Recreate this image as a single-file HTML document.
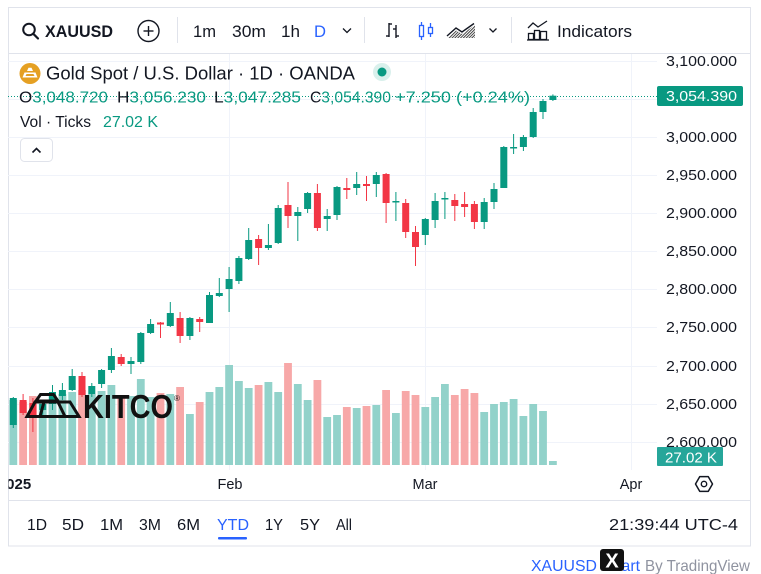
<!DOCTYPE html>
<html><head><meta charset="utf-8"><style>
html,body{margin:0;padding:0;background:#fff;}
svg{display:block;}
</style></head><body>
<svg width="761" height="574" viewBox="0 0 761 574" xmlns="http://www.w3.org/2000/svg" font-family="'Liberation Sans', Arial, sans-serif">
<defs>
<clipPath id="fr"><rect x="8.5" y="8" width="742" height="538"/></clipPath>
<pattern id="hatch" width="2" height="2" patternUnits="userSpaceOnUse" patternTransform="rotate(45)"><rect width="1" height="2" fill="#444"/></pattern>
</defs>
<rect width="761" height="574" fill="#fff"/>
<rect x="8.5" y="7.5" width="742" height="538.5" fill="#fff" stroke="#e0e3eb"/>

<!-- toolbar -->
<line x1="8" y1="53.5" x2="751" y2="53.5" stroke="#e0e3eb"/>
<line x1="177.5" y1="17" x2="177.5" y2="43" stroke="#e0e3eb"/>
<line x1="364.5" y1="17" x2="364.5" y2="43" stroke="#e0e3eb"/>
<line x1="511.5" y1="17" x2="511.5" y2="43" stroke="#e0e3eb"/>
<circle cx="29" cy="29.5" r="5.8" fill="none" stroke="#131722" stroke-width="2"/>
<line x1="33.3" y1="33.8" x2="38" y2="38.5" stroke="#131722" stroke-width="2.2" stroke-linecap="round"/>
<text x="45" y="37" font-size="16.5" font-weight="bold" fill="#131722" textLength="68" lengthAdjust="spacingAndGlyphs">XAUUSD</text>
<circle cx="148.5" cy="31" r="10.5" fill="none" stroke="#131722" stroke-width="1.4"/>
<line x1="143.5" y1="31" x2="153.5" y2="31" stroke="#131722" stroke-width="1.4"/>
<line x1="148.5" y1="26" x2="148.5" y2="36" stroke="#131722" stroke-width="1.4"/>
<text x="193" y="37" font-size="17" fill="#131722" textLength="23" lengthAdjust="spacingAndGlyphs">1m</text>
<text x="232" y="37" font-size="17" fill="#131722" textLength="34" lengthAdjust="spacingAndGlyphs">30m</text>
<text x="281" y="37" font-size="17" fill="#131722" textLength="19" lengthAdjust="spacingAndGlyphs">1h</text>
<text x="314" y="37" font-size="17" fill="#2962ff" textLength="12" lengthAdjust="spacingAndGlyphs">D</text>
<polyline points="343,28.5 347,32.5 351,28.5" fill="none" stroke="#131722" stroke-width="1.3"/>
<!-- bar icon -->
<g stroke="#131722" stroke-width="1.4" fill="none">
<line x1="389" y1="23" x2="389" y2="37"/><line x1="389" y1="24" x2="392" y2="24"/><line x1="386" y1="36" x2="389" y2="36"/>
<line x1="396" y1="25" x2="396" y2="38"/><line x1="393" y1="29" x2="396" y2="29"/><line x1="396" y1="36" x2="399" y2="36"/>
</g>
<!-- candle icon -->
<g stroke="#2962ff" stroke-width="1.3" fill="none">
<line x1="421.5" y1="22" x2="421.5" y2="40"/><rect x="419.5" y="25.5" width="4" height="11" fill="#fff"/>
<line x1="430.5" y1="23" x2="430.5" y2="37"/><rect x="428.5" y="27.5" width="4" height="6" fill="#fff"/>
</g>
<!-- area icon -->
<polygon points="448,38 456,30.5 462,34 475,25 475,38" fill="url(#hatch)"/>
<polyline points="447,36 456,28 462,32 474,23.5" fill="none" stroke="#131722" stroke-width="1.4"/>
<polyline points="489.5,28.5 493,32 496.5,28.5" fill="none" stroke="#131722" stroke-width="1.3"/>
<!-- indicators icon -->
<g stroke="#131722" stroke-width="1.3" fill="none">
<polyline points="528,28 533,23 538,27 547,21"/>
<rect x="528.5" y="33.5" width="5" height="6"/><rect x="534.5" y="30.5" width="5" height="9"/><rect x="540.5" y="31.5" width="6" height="8"/>
<line x1="527" y1="40" x2="549" y2="40"/>
</g>
<text x="557" y="37" font-size="17" fill="#131722" textLength="75" lengthAdjust="spacingAndGlyphs">Indicators</text>

<!-- grid -->
<g stroke="#f0f3fa" stroke-width="1">
<line x1="8" y1="61.5" x2="657" y2="61.5"/><line x1="8" y1="99.5" x2="657" y2="99.5"/><line x1="8" y1="137.5" x2="657" y2="137.5"/>
<line x1="8" y1="175.5" x2="657" y2="175.5"/><line x1="8" y1="213.5" x2="657" y2="213.5"/><line x1="8" y1="251.5" x2="657" y2="251.5"/>
<line x1="8" y1="289.5" x2="657" y2="289.5"/><line x1="8" y1="327.5" x2="657" y2="327.5"/><line x1="8" y1="366.5" x2="657" y2="366.5"/>
<line x1="8" y1="404.5" x2="657" y2="404.5"/><line x1="8" y1="442.5" x2="657" y2="442.5"/>
<line x1="229.5" y1="54" x2="229.5" y2="470"/><line x1="425.5" y1="54" x2="425.5" y2="470"/><line x1="631.5" y1="54" x2="631.5" y2="470"/>
</g>

<!-- volume -->
<g>
<rect x="9.4" y="400" width="7.8" height="65" fill="#92d2ca"/>
<rect x="19.2" y="402" width="7.8" height="63" fill="#f7a8a8"/>
<rect x="29.0" y="396" width="7.8" height="69" fill="#f7a8a8"/>
<rect x="38.8" y="400" width="7.8" height="65" fill="#92d2ca"/>
<rect x="48.6" y="395" width="7.8" height="70" fill="#92d2ca"/>
<rect x="58.5" y="394" width="7.8" height="71" fill="#92d2ca"/>
<rect x="68.3" y="392" width="7.8" height="73" fill="#92d2ca"/>
<rect x="78.1" y="390" width="7.8" height="75" fill="#f7a8a8"/>
<rect x="87.9" y="394" width="7.8" height="71" fill="#92d2ca"/>
<rect x="97.7" y="391" width="7.8" height="74" fill="#92d2ca"/>
<rect x="107.5" y="385" width="7.8" height="80" fill="#92d2ca"/>
<rect x="117.3" y="397" width="7.8" height="68" fill="#f7a8a8"/>
<rect x="127.1" y="396" width="7.8" height="69" fill="#92d2ca"/>
<rect x="136.9" y="379" width="7.8" height="86" fill="#92d2ca"/>
<rect x="146.7" y="397" width="7.8" height="68" fill="#92d2ca"/>
<rect x="156.6" y="393" width="7.8" height="72" fill="#f7a8a8"/>
<rect x="166.4" y="394" width="7.8" height="71" fill="#92d2ca"/>
<rect x="176.2" y="387" width="7.8" height="78" fill="#f7a8a8"/>
<rect x="186.0" y="414" width="7.8" height="51" fill="#92d2ca"/>
<rect x="195.8" y="402" width="7.8" height="63" fill="#f7a8a8"/>
<rect x="205.6" y="392" width="7.8" height="73" fill="#92d2ca"/>
<rect x="215.4" y="387" width="7.8" height="78" fill="#92d2ca"/>
<rect x="225.2" y="365" width="7.8" height="100" fill="#92d2ca"/>
<rect x="235.0" y="381" width="7.8" height="84" fill="#92d2ca"/>
<rect x="244.8" y="388" width="7.8" height="77" fill="#92d2ca"/>
<rect x="254.7" y="385" width="7.8" height="80" fill="#f7a8a8"/>
<rect x="264.5" y="382" width="7.8" height="83" fill="#92d2ca"/>
<rect x="274.3" y="392" width="7.8" height="73" fill="#92d2ca"/>
<rect x="284.1" y="363" width="7.8" height="102" fill="#f7a8a8"/>
<rect x="293.9" y="384" width="7.8" height="81" fill="#92d2ca"/>
<rect x="303.7" y="400" width="7.8" height="65" fill="#92d2ca"/>
<rect x="313.5" y="380" width="7.8" height="85" fill="#f7a8a8"/>
<rect x="323.3" y="417" width="7.8" height="48" fill="#92d2ca"/>
<rect x="333.1" y="415" width="7.8" height="50" fill="#92d2ca"/>
<rect x="342.9" y="407" width="7.8" height="58" fill="#f7a8a8"/>
<rect x="352.8" y="408" width="7.8" height="57" fill="#92d2ca"/>
<rect x="362.6" y="406" width="7.8" height="59" fill="#f7a8a8"/>
<rect x="372.4" y="405" width="7.8" height="60" fill="#92d2ca"/>
<rect x="382.2" y="390" width="7.8" height="75" fill="#f7a8a8"/>
<rect x="392.0" y="413" width="7.8" height="52" fill="#92d2ca"/>
<rect x="401.8" y="391" width="7.8" height="74" fill="#f7a8a8"/>
<rect x="411.6" y="395" width="7.8" height="70" fill="#f7a8a8"/>
<rect x="421.4" y="407" width="7.8" height="58" fill="#92d2ca"/>
<rect x="431.2" y="397" width="7.8" height="68" fill="#92d2ca"/>
<rect x="441.0" y="384" width="7.8" height="81" fill="#92d2ca"/>
<rect x="450.9" y="395" width="7.8" height="70" fill="#f7a8a8"/>
<rect x="460.7" y="389" width="7.8" height="76" fill="#f7a8a8"/>
<rect x="470.5" y="393" width="7.8" height="72" fill="#f7a8a8"/>
<rect x="480.3" y="412" width="7.8" height="53" fill="#92d2ca"/>
<rect x="490.1" y="404" width="7.8" height="61" fill="#92d2ca"/>
<rect x="499.9" y="402" width="7.8" height="63" fill="#92d2ca"/>
<rect x="509.7" y="399" width="7.8" height="66" fill="#92d2ca"/>
<rect x="519.5" y="416" width="7.8" height="49" fill="#92d2ca"/>
<rect x="529.3" y="404" width="7.8" height="61" fill="#92d2ca"/>
<rect x="539.1" y="411" width="7.8" height="54" fill="#92d2ca"/>
<rect x="549.0" y="461" width="7.8" height="4" fill="#92d2ca"/>
</g>

<!-- candles -->
<g fill="#089981">
<rect x="12.8" y="397" width="1" height="31"/><rect x="9.8" y="398" width="7" height="27"/>
<rect x="42.2" y="400" width="1" height="15"/><rect x="39.2" y="404" width="7" height="6"/>
<rect x="52.0" y="385" width="1" height="25"/><rect x="49.0" y="392" width="7" height="12"/>
<rect x="61.9" y="383" width="1" height="17"/><rect x="58.9" y="390" width="7" height="6"/>
<rect x="71.7" y="369" width="1" height="22"/><rect x="68.7" y="376" width="7" height="14"/>
<rect x="91.3" y="383" width="1" height="14"/><rect x="88.3" y="386" width="7" height="8"/>
<rect x="101.1" y="369" width="1" height="19"/><rect x="98.1" y="370" width="7" height="14"/>
<rect x="110.9" y="348" width="1" height="25"/><rect x="107.9" y="356" width="7" height="14"/>
<rect x="130.5" y="357" width="1" height="17"/><rect x="127.5" y="361" width="7" height="3"/>
<rect x="140.3" y="332" width="1" height="32"/><rect x="137.3" y="333" width="7" height="29"/>
<rect x="150.1" y="319" width="1" height="15"/><rect x="147.1" y="324" width="7" height="9"/>
<rect x="169.8" y="302" width="1" height="25"/><rect x="166.8" y="313" width="7" height="13"/>
<rect x="189.4" y="317" width="1" height="23"/><rect x="186.4" y="318" width="7" height="18"/>
<rect x="209.0" y="292" width="1" height="31"/><rect x="206.0" y="295" width="7" height="28"/>
<rect x="218.8" y="278" width="1" height="19"/><rect x="215.8" y="293" width="7" height="3"/>
<rect x="228.6" y="267" width="1" height="45"/><rect x="225.6" y="279" width="7" height="10"/>
<rect x="238.4" y="256" width="1" height="28"/><rect x="235.4" y="258" width="7" height="23"/>
<rect x="248.2" y="228" width="1" height="32"/><rect x="245.2" y="240" width="7" height="19"/>
<rect x="267.9" y="224" width="1" height="26"/><rect x="264.9" y="245" width="7" height="3"/>
<rect x="277.7" y="205" width="1" height="39"/><rect x="274.7" y="208" width="7" height="35"/>
<rect x="297.3" y="207" width="1" height="34"/><rect x="294.3" y="212" width="7" height="4"/>
<rect x="307.1" y="192" width="1" height="21"/><rect x="304.1" y="193" width="7" height="16"/>
<rect x="326.7" y="209" width="1" height="22"/><rect x="323.7" y="216" width="7" height="3"/>
<rect x="336.5" y="186" width="1" height="34"/><rect x="333.5" y="187" width="7" height="28"/>
<rect x="356.2" y="172" width="1" height="23"/><rect x="353.2" y="184" width="7" height="4"/>
<rect x="375.8" y="172" width="1" height="25"/><rect x="372.8" y="175" width="7" height="9"/>
<rect x="395.4" y="192" width="1" height="29"/><rect x="392.4" y="201" width="7" height="1.5"/>
<rect x="424.8" y="218" width="1" height="27"/><rect x="421.8" y="219" width="7" height="16"/>
<rect x="434.6" y="193" width="1" height="35"/><rect x="431.6" y="201" width="7" height="19"/>
<rect x="444.4" y="192" width="1" height="27"/><rect x="441.4" y="198" width="7" height="1.5"/>
<rect x="483.7" y="198" width="1" height="31"/><rect x="480.7" y="202" width="7" height="20"/>
<rect x="493.5" y="183" width="1" height="26"/><rect x="490.5" y="189" width="7" height="13"/>
<rect x="503.3" y="146" width="1" height="42"/><rect x="500.3" y="147" width="7" height="41"/>
<rect x="513.1" y="134" width="1" height="20"/><rect x="510.1" y="147" width="7" height="1.5"/>
<rect x="522.9" y="135" width="1" height="16"/><rect x="519.9" y="137" width="7" height="10"/>
<rect x="532.7" y="108" width="1" height="30"/><rect x="529.7" y="112" width="7" height="25"/>
<rect x="542.5" y="99" width="1" height="20"/><rect x="539.5" y="101" width="7" height="11"/>
<rect x="552.4" y="94.4" width="1" height="6.6"/><rect x="549.4" y="95.7" width="7" height="4.3"/>
</g>
<g fill="#f23645">
<rect x="22.6" y="394" width="1" height="21"/><rect x="19.6" y="400" width="7" height="13"/>
<rect x="32.4" y="398" width="1" height="34"/><rect x="29.4" y="403" width="7" height="13"/>
<rect x="81.5" y="372" width="1" height="25"/><rect x="78.5" y="376" width="7" height="19"/>
<rect x="120.7" y="354" width="1" height="12"/><rect x="117.7" y="357" width="7" height="7"/>
<rect x="160.0" y="322" width="1" height="16"/><rect x="157.0" y="322.5" width="7" height="2"/>
<rect x="179.6" y="312" width="1" height="31"/><rect x="176.6" y="318" width="7" height="18"/>
<rect x="199.2" y="317" width="1" height="15"/><rect x="196.2" y="319" width="7" height="3"/>
<rect x="258.1" y="235" width="1" height="30"/><rect x="255.1" y="239" width="7" height="9"/>
<rect x="287.5" y="182" width="1" height="46"/><rect x="284.5" y="205" width="7" height="11"/>
<rect x="316.9" y="184" width="1" height="47"/><rect x="313.9" y="193" width="7" height="35"/>
<rect x="346.3" y="178" width="1" height="21"/><rect x="343.3" y="188" width="7" height="2"/>
<rect x="366.0" y="176" width="1" height="25"/><rect x="363.0" y="184" width="7" height="2"/>
<rect x="385.6" y="173" width="1" height="50"/><rect x="382.6" y="174" width="7" height="29"/>
<rect x="405.2" y="199" width="1" height="39"/><rect x="402.2" y="203" width="7" height="29"/>
<rect x="415.0" y="226" width="1" height="40"/><rect x="412.0" y="232" width="7" height="15"/>
<rect x="454.3" y="194" width="1" height="27"/><rect x="451.3" y="200" width="7" height="6"/>
<rect x="464.1" y="192" width="1" height="25"/><rect x="461.1" y="204" width="7" height="3"/>
<rect x="473.9" y="201" width="1" height="28"/><rect x="470.9" y="204" width="7" height="18"/>
</g>

<!-- KITCO logo -->
<g fill="none" stroke="#111" stroke-width="3" stroke-linejoin="miter">
<polygon points="36,401 40.5,394.5 53.5,394.5 58,401"/>
<polygon points="27,416.5 35,402 70,402 79,416.5"/>
<line x1="58" y1="402" x2="65" y2="416.5"/>
<line x1="44" y1="402" x2="40" y2="416.5"/>
</g>
<text x="83" y="418" font-size="33" font-weight="bold" fill="#111" textLength="90" lengthAdjust="spacingAndGlyphs">KITCO</text>
<text x="174" y="401" font-size="8" fill="#111">®</text>

<!-- dotted price line -->
<line x1="8" y1="96.5" x2="657" y2="96.5" stroke="#089981" stroke-width="1" stroke-dasharray="1 2"/>

<!-- legend -->
<circle cx="30" cy="73.5" r="10.5" fill="#e5a023"/>
<polygon points="27,71 28.5,67.8 31.5,67.8 33,71" fill="#fff"/>
<polygon points="22.5,77.5 24.5,72.5 35.5,72.5 37.5,77.5" fill="#fff"/>
<polygon points="25.5,76 26.5,74 33.5,74 34.5,76" fill="#e5a023"/>
<text x="46" y="79.5" font-size="18.5" fill="#131722" textLength="309" lengthAdjust="spacingAndGlyphs">Gold Spot / U.S. Dollar · 1D · OANDA</text>
<circle cx="382" cy="72" r="9" fill="#d9f0ec"/>
<circle cx="382" cy="72" r="4.5" fill="#089981"/>
<text x="19" y="102.5" font-size="15.5" textLength="89" lengthAdjust="spacingAndGlyphs"><tspan fill="#131722">O</tspan><tspan fill="#089981">3,048.720</tspan></text>
<text x="117" y="102.5" font-size="15.5" textLength="89" lengthAdjust="spacingAndGlyphs"><tspan fill="#131722">H</tspan><tspan fill="#089981">3,056.230</tspan></text>
<text x="214" y="102.5" font-size="15.5" textLength="87" lengthAdjust="spacingAndGlyphs"><tspan fill="#131722">L</tspan><tspan fill="#089981">3,047.285</tspan></text>
<text x="310" y="102.5" font-size="15.5" textLength="81" lengthAdjust="spacingAndGlyphs"><tspan fill="#131722">C</tspan><tspan fill="#089981">3,054.390</tspan></text>
<text x="395" y="102.5" font-size="15.5" fill="#089981" textLength="135" lengthAdjust="spacingAndGlyphs">+7.250 (+0.24%)</text>
<text x="20" y="127" font-size="15.5" fill="#131722" textLength="71" lengthAdjust="spacingAndGlyphs">Vol · Ticks</text>
<text x="103" y="127" font-size="15.5" fill="#089981" textLength="55" lengthAdjust="spacingAndGlyphs">27.02 K</text>
<rect x="20.5" y="138.5" width="32" height="23" rx="4" fill="#fff" stroke="#e0e3eb"/>
<polyline points="32.5,152.5 36.5,148.5 40.5,152.5" fill="none" stroke="#131722" stroke-width="1.6"/>

<!-- price axis -->
<g font-size="14.5" fill="#131722" text-anchor="end">
<text x="737" y="66" textLength="71" lengthAdjust="spacingAndGlyphs">3,100.000</text>
<text x="737" y="142" textLength="71" lengthAdjust="spacingAndGlyphs">3,000.000</text>
<text x="737" y="180" textLength="71" lengthAdjust="spacingAndGlyphs">2,950.000</text>
<text x="737" y="218" textLength="71" lengthAdjust="spacingAndGlyphs">2,900.000</text>
<text x="737" y="256" textLength="71" lengthAdjust="spacingAndGlyphs">2,850.000</text>
<text x="737" y="294" textLength="71" lengthAdjust="spacingAndGlyphs">2,800.000</text>
<text x="737" y="332" textLength="71" lengthAdjust="spacingAndGlyphs">2,750.000</text>
<text x="737" y="371" textLength="71" lengthAdjust="spacingAndGlyphs">2,700.000</text>
<text x="737" y="409" textLength="71" lengthAdjust="spacingAndGlyphs">2,650.000</text>
<text x="737" y="447" textLength="71" lengthAdjust="spacingAndGlyphs">2,600.000</text>
</g>
<rect x="657" y="86" width="86" height="20" rx="2" fill="#089981"/>
<text x="666" y="101" font-size="14.5" fill="#fff" textLength="71" lengthAdjust="spacingAndGlyphs">3,054.390</text>
<rect x="657" y="447" width="66" height="19" rx="1" fill="#26a69a"/>
<text x="665" y="462.5" font-size="14.5" fill="#fff" textLength="52" lengthAdjust="spacingAndGlyphs">27.02 K</text>

<!-- time axis -->
<g clip-path="url(#fr)">
<text x="14.5" y="489" font-size="15" font-weight="bold" fill="#131722" text-anchor="middle">2025</text>
</g>
<g font-size="14.5" fill="#131722" text-anchor="middle">
<text x="230" y="489">Feb</text>
<text x="425" y="489">Mar</text>
<text x="631" y="489">Apr</text>
</g>
<polygon points="712.5,484 708.25,476.6 699.75,476.6 695.5,484 699.75,491.4 708.25,491.4" fill="none" stroke="#131722" stroke-width="1.5" stroke-linejoin="round"/>
<circle cx="704" cy="484" r="2.7" fill="none" stroke="#131722" stroke-width="1.4"/>

<!-- bottom bar -->
<line x1="8" y1="500.5" x2="751" y2="500.5" stroke="#e0e3eb"/>
<g font-size="16" fill="#131722">
<text x="27" y="530" textLength="20" lengthAdjust="spacingAndGlyphs">1D</text>
<text x="62" y="530" textLength="22" lengthAdjust="spacingAndGlyphs">5D</text>
<text x="100" y="530" textLength="23" lengthAdjust="spacingAndGlyphs">1M</text>
<text x="139" y="530" textLength="22" lengthAdjust="spacingAndGlyphs">3M</text>
<text x="177" y="530" textLength="23" lengthAdjust="spacingAndGlyphs">6M</text>
<text x="217" y="530" fill="#2962ff" textLength="32" lengthAdjust="spacingAndGlyphs">YTD</text>
<text x="265" y="530" textLength="18" lengthAdjust="spacingAndGlyphs">1Y</text>
<text x="300" y="530" textLength="20" lengthAdjust="spacingAndGlyphs">5Y</text>
<text x="336" y="530" textLength="16" lengthAdjust="spacingAndGlyphs">All</text>
<text x="609" y="530" textLength="129" lengthAdjust="spacingAndGlyphs">21:39:44 UTC-4</text>
</g>
<rect x="218" y="537" width="29" height="2.5" rx="1" fill="#2962ff"/>

<!-- footer -->
<text x="531" y="571" font-size="16" fill="#2962ff" textLength="109" lengthAdjust="spacingAndGlyphs">XAUUSD Chart</text>
<text x="645" y="571" font-size="16" fill="#8f93a0" textLength="105" lengthAdjust="spacingAndGlyphs">By TradingView</text>
<rect x="600" y="549" width="24" height="22" rx="3" fill="#111"/>
<text x="612" y="567.5" font-size="20" font-weight="bold" fill="#fff" text-anchor="middle">X</text>
</svg>
</body></html>
